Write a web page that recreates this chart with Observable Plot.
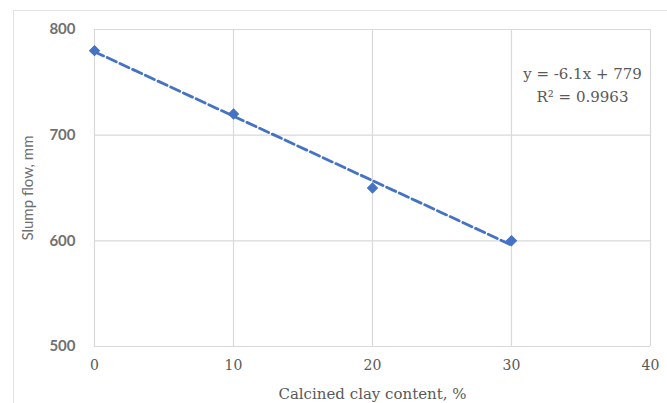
<!DOCTYPE html>
<html>
<head>
<meta charset="utf-8">
<script src="https://cdn.jsdelivr.net/npm/d3@7"></script>
<script src="https://cdn.jsdelivr.net/npm/@observablehq/plot@0.6"></script>
<style>
  html, body { margin: 0; padding: 0; background: #fff; }
  #wrap { position: relative; width: 667px; height: 403px; overflow: hidden; }
  #frame { position: absolute; left: 13px; top: 10px; width: 700px; height: 500px; border: 1.5px solid #e3e3e3; box-sizing: border-box; }
  #chart { position: absolute; left: 0; top: 0; }
</style>
</head>
<body>
<div id="wrap"><div id="frame"></div><div id="chart"></div></div>
<script>
const clayContent = [0, 10, 20, 30];
const slumpFlow = [780, 720, 650, 600];
const xTicks = [0, 10, 20, 30, 40];
const yTicks = [500, 600, 700, 800];
const equationText = "y = -6.1x + 779\nR² = 0.9963";

const data = clayContent.map((x, i) => ({x, y: slumpFlow[i]}));
const blue = "#4472C4";
const grey = "#595959";

const chart = Plot.plot({
  width: 667,
  height: 403,
  marginLeft: 94,
  marginRight: 17,
  marginTop: 29,
  marginBottom: 57,
  style: {background: "transparent", color: grey},
  x: {domain: [0, 40], ticks: xTicks},
  y: {domain: [500, 800], ticks: yTicks},
  marks: [
    Plot.gridX(xTicks, {stroke: "#d9d9d9", strokeOpacity: 1, strokeWidth: 1.2}),
    Plot.gridY(yTicks, {stroke: "#d9d9d9", strokeOpacity: 1, strokeWidth: 1.2}),
    Plot.axisX(xTicks, {tickSize: 0, tickPadding: 14, fontSize: 14, fontFamily: "DejaVu Serif", fill: grey,
      label: "Calcined clay content, %", labelAnchor: "center", labelArrow: "none", labelOffset: 52}),
    Plot.axisY(yTicks, {tickSize: 0, tickPadding: 19, fontSize: 15, fontFamily: "Lato", fontWeight: "bold", fill: "#707070",
      label: "Slump flow, mm", labelAnchor: "center", labelArrow: "none", labelOffset: 72}),
    Plot.linearRegressionY(data, {x: "x", y: "y", stroke: blue, strokeWidth: 2.8, strokeDasharray: "10,4", ci: 0}),
    Plot.dot(data, {x: "x", y: "y", symbol: "square", rotate: 45, r: 4, fill: blue, stroke: blue, strokeWidth: 1}),
    Plot.text([equationText], {frameAnchor: "top-right", dx: -68, dy: 34, textAnchor: "middle", lineAnchor: "top",
      fontSize: 15, fontFamily: "DejaVu Serif", fill: grey, lineHeight: 1.5})
  ]
});

chart.querySelectorAll("g[aria-label='x-axis label'] text").forEach(t => { t.setAttribute("font-family", "DejaVu Serif"); t.setAttribute("font-size", "15"); });
chart.querySelectorAll("g[aria-label='y-axis label'] text").forEach(t => { t.setAttribute("font-family", "Lato"); t.setAttribute("font-size", "15"); t.setAttribute("font-weight", "normal"); });

document.getElementById("chart").appendChild(chart);
</script>
</body>
</html>
